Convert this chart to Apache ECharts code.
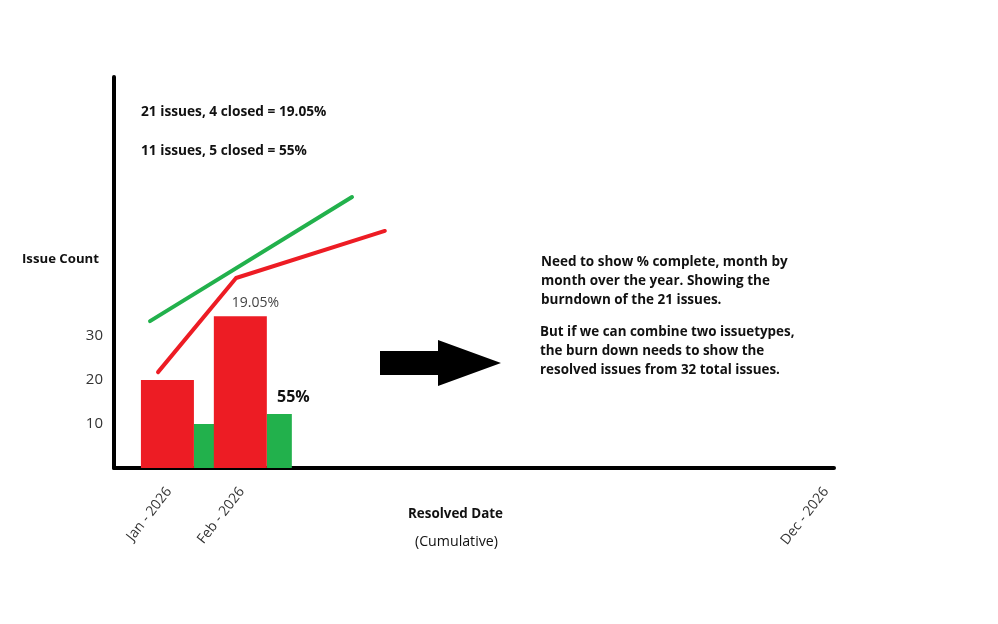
<!DOCTYPE html>
<html>
<head>
<meta charset="utf-8">
<style>
  html, body { margin: 0; padding: 0; background: #fff; }
  #main { width: 998px; height: 624px; }
</style>
<script src="https://cdn.jsdelivr.net/npm/echarts@6/dist/echarts.min.js"></script>
</head>
<body>
<div id="main"></div>
<script>
// months as drawn: only three of them are labelled, Dec is squeezed in
var monthLabels = ['Jan - 2026', 'Feb - 2026', 'Dec - 2026'];
var monthLabelAt = [0.85, 1.85, 9.86];
var yTicks = [10, 20, 30];

var barMonths = [1, 2];
var redBars = [20, 34.5];
var greenBars = [10, 12.3];
var redBarNotes = ['', '19.05%'];
var greenBarNotes = ['', '55%'];

var redLineX = [0.7, 1.77, 3.81];
var redLineY = [21.8, 43.2, 53.9];
var greenLineX = [0.59, 3.36];
var greenLineY = [33.4, 61.6];

var RED = '#ed1c24';
var GREEN = '#22b14c';
var FONT = '"Open Sans", sans-serif';

function pairs(xs, ys) {
  return xs.map(function (x, i) { return [x, ys[i]]; });
}

function textBlock(x, y, text, size, weight, align) {
  return {
    type: 'text',
    x: x,
    y: y,
    style: {
      text: text,
      fill: '#111',
      font: weight + ' ' + size + 'px ' + FONT,
      lineHeight: 19,
      align: align || 'left',
      verticalAlign: 'middle'
    }
  };
}

var myChart = echarts.init(document.getElementById('main'));

var option = {
  backgroundColor: '#fff',
  animation: false,
  grid: { left: 114, top: 77, width: 720, height: 391 },
  xAxis: {
    type: 'value',
    min: 0.096,
    max: 9.97,
    splitLine: { show: false },
    axisTick: { show: false },
    axisLine: { lineStyle: { color: '#000', width: 4 } },
    axisLabel: {
      customValues: monthLabelAt,
      rotate: 52,
      margin: 21,
      fontSize: 14,
      fontFamily: FONT,
      color: '#333',
      hideOverlap: false,
      showMinLabel: true,
      showMaxLabel: true,
      formatter: function (v) {
        return monthLabels[monthLabelAt.indexOf(v)];
      }
    }
  },
  yAxis: {
    type: 'value',
    min: 0,
    max: 88.9,
    splitLine: { show: false },
    axisTick: { show: false },
    axisLine: { show: true, onZero: false, lineStyle: { color: '#000', width: 4, cap: 'round' } },
    axisLabel: {
      customValues: yTicks,
      margin: 11,
      fontSize: 15,
      fontFamily: FONT,
      color: '#333'
    }
  },
  series: [
    {
      type: 'bar',
      name: 'Issues',
      z: 3,
      barWidth: 53,
      barGap: 0,
      itemStyle: { color: RED },
      data: pairs(barMonths, redBars),
      label: {
        show: true,
        position: 'top',
        offset: [15, -1],
        fontSize: 14,
        fontFamily: FONT,
        color: '#444',
        formatter: function (p) { return redBarNotes[p.dataIndex]; }
      }
    },
    {
      type: 'bar',
      name: 'Closed',
      z: 2,
      barWidth: 25,
      barGap: 0,
      itemStyle: { color: GREEN },
      data: pairs(barMonths, greenBars),
      label: {
        show: true,
        position: 'top',
        offset: [14, -3],
        fontSize: 16,
        fontWeight: 'bold',
        fontFamily: FONT,
        color: '#111',
        formatter: function (p) { return greenBarNotes[p.dataIndex]; }
      }
    },
    {
      type: 'line',
      z: 4,
      showSymbol: false,
      lineStyle: { color: RED, width: 4, cap: 'round', join: 'round' },
      data: pairs(redLineX, redLineY)
    },
    {
      type: 'line',
      z: 4,
      showSymbol: false,
      lineStyle: { color: GREEN, width: 4, cap: 'round' },
      data: pairs(greenLineX, greenLineY)
    }
  ],
  graphic: [
    textBlock(141, 112, '21 issues, 4 closed = 19.05%', 13.7, 'bold'),
    textBlock(141, 151, '11 issues, 5 closed = 55%', 13.7, 'bold'),
    textBlock(22, 259, 'Issue Count', 13.2, 'bold'),
    textBlock(408, 514, 'Resolved Date', 13.4, 'bold'),
    textBlock(415, 542, '(Cumulative)', 14.2, 'normal'),
    textBlock(541, 281, 'Need to show % complete, month by\nmonth over the year. Showing the\nburndown of the 21 issues.', 13.5, 'bold'),
    textBlock(540, 351, 'But if we can combine two issuetypes,\nthe burn down needs to show the\nresolved issues from 32 total issues.', 13.4, 'bold'),
    {
      type: 'polygon',
      shape: { points: [[380, 351], [438, 351], [438, 340], [501, 363], [438, 386], [438, 375], [380, 375]] },
      style: { fill: '#000' }
    }
  ]
};

myChart.setOption(option);
</script>
</body>
</html>
